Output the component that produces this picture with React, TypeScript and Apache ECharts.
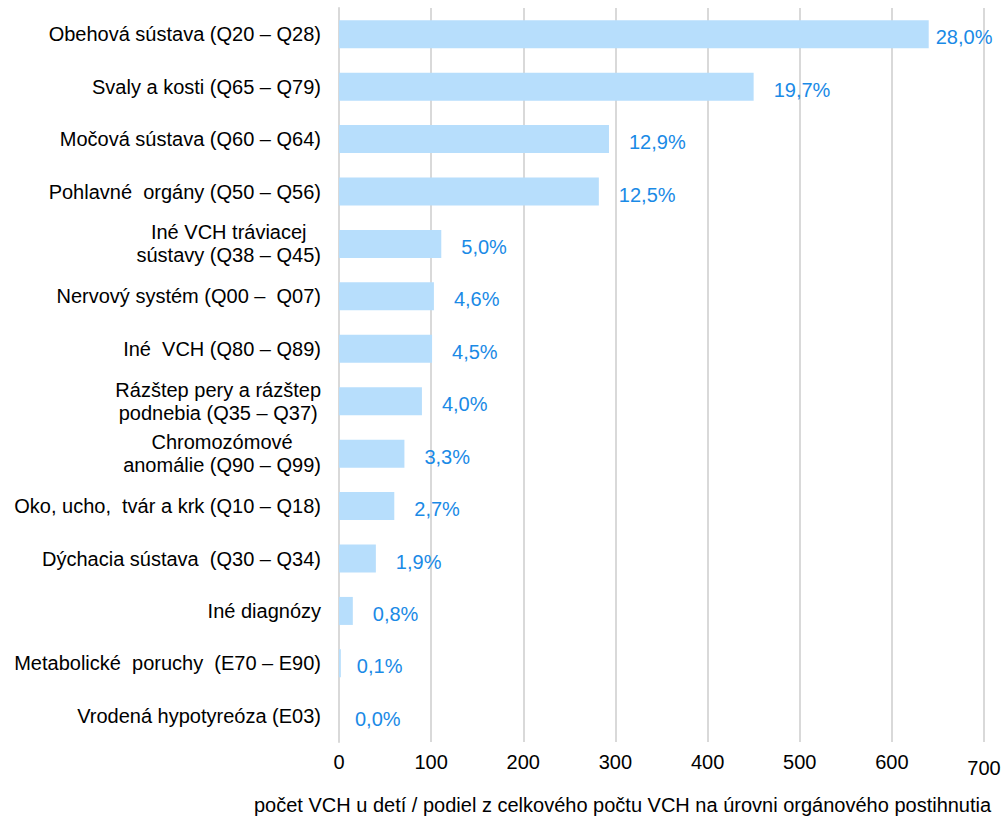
import React, { useEffect, useRef } from "react";
import * as echarts from "echarts";

const categories: string[] = [
  "Obehová sústava (Q20 – Q28)",
  "Svaly a kosti (Q65 – Q79)",
  "Močová sústava (Q60 – Q64)",
  "Pohlavné  orgány (Q50 – Q56)",
  "Iné VCH tráviacej\nsústavy (Q38 – Q45)",
  "Nervový systém (Q00 –  Q07)",
  "Iné  VCH (Q80 – Q89)",
  "Rázštep pery a rázštep\npodnebia (Q35 – Q37)",
  "Chromozómové\nanomálie (Q90 – Q99)",
  "Oko, ucho,  tvár a krk (Q10 – Q18)",
  "Dýchacia sústava  (Q30 – Q34)",
  "Iné diagnózy",
  "Metabolické  poruchy  (E70 – E90)",
  "Vrodená hypotyreóza (E03)",
];

const counts: number[] = [640, 450, 293, 282, 111, 103, 101, 90, 71, 60, 40, 15, 2, 0];

const shares: string[] = [
  "28,0%", "19,7%", "12,9%", "12,5%", "5,0%", "4,6%", "4,5%",
  "4,0%", "3,3%", "2,7%", "1,9%", "0,8%", "0,1%", "0,0%",
];

const xTicks: number[] = [0, 100, 200, 300, 400, 500, 600, 700];

const axisTitle =
  "počet VCH u detí / podiel z celkového počtu VCH na úrovni orgánového postihnutia";

const FONT = "Liberation Sans, Arial, sans-serif";
const FS = 20;

export default function App() {
  const ref = useRef<HTMLDivElement>(null);
  useEffect(() => {
    if (!ref.current) return;
    const chart = echarts.init(ref.current, undefined, { renderer: "svg" });
    const data = counts.map((v, i) => {
      const dist = i === 0 ? 7 : i >= 12 ? 16 : 20;
      return {
        value: v,
        label: { distance: dist },
      };
    });
    chart.setOption({
      animation: false,
      backgroundColor: "#ffffff",
      textStyle: { fontFamily: FONT },
      title: {
        text: axisTitle,
        left: 254,
        top: 795,
        textStyle: {
          fontFamily: FONT,
          fontSize: 20,
          fontWeight: "normal",
          color: "#000000",
        },
        padding: 0,
      },
      grid: { left: 339, right: 21, top: 8, bottom: 77, containLabel: false },
      xAxis: {
        type: "value",
        min: xTicks[0],
        max: xTicks[xTicks.length - 1],
        interval: 100,
        axisLine: { show: false },
        axisTick: { show: false },
        splitLine: { show: true, lineStyle: { color: "#d9d9d9", width: 2 } },
        axisLabel: {
          color: "#000000",
          fontFamily: FONT,
          fontSize: FS,
          margin: 10,
          formatter: (v: number) => (v === 700 ? "{l|700}" : String(v)),
          rich: {
            l: { fontFamily: FONT, fontSize: FS, color: "#000000", padding: [6, 0, 0, 0] },
          },
        },
      },
      yAxis: {
        type: "category",
        data: categories,
        inverse: true,
        axisLine: { show: true, lineStyle: { color: "#d9d9d9", width: 2 } },
        axisTick: { show: false },
        axisLabel: {
          margin: 18,
          color: "#000000",
          fontFamily: FONT,
          fontSize: FS,
          lineHeight: 23,
          formatter: (v: string) =>
            v
              .split("\n")
              .map((s) => "{c|" + s + "}")
              .join("\n"),
          rich: {
            c: {
              align: "center",
              fontFamily: FONT,
              fontSize: FS,
              color: "#000000",
              lineHeight: 23,
            },
          },
        },
      },
      series: [
        {
          type: "bar",
          data,
          barWidth: 28,
          itemStyle: { color: "#b7defc" },
          label: {
            show: true,
            position: "right",
            offset: [0, 3],
            color: "#1a8ae6",
            fontFamily: FONT,
            fontSize: FS,
            formatter: (p: any) => shares[p.dataIndex],
          },
        },
      ],
    });
    return () => chart.dispose();
  }, []);
  return <div ref={ref} style={{ width: 1005, height: 819, position: "absolute", left: 0, top: 0 }} />;
}
